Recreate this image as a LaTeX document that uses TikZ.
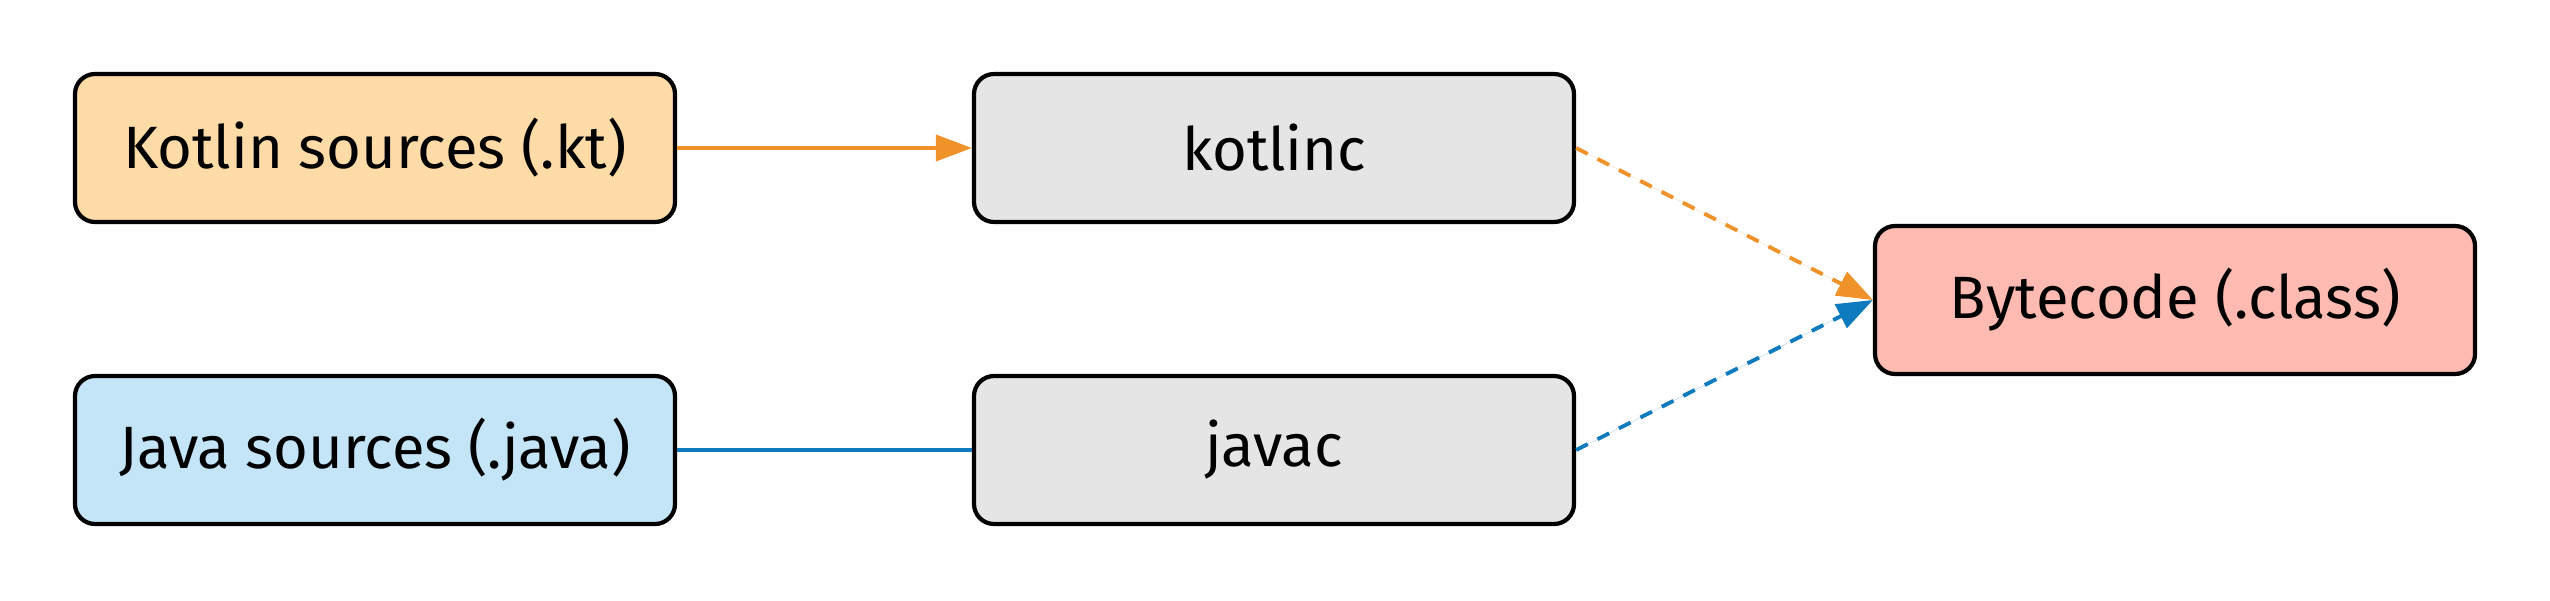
\documentclass[tikz,border=0pt]{standalone}
\usepackage{fontspec}
\setmainfont{Fira Sans}
\usetikzlibrary{arrows.meta}
\definecolor{kfill}{HTML}{FFDBA8}
\definecolor{jfill}{HTML}{C3E5F7}
\definecolor{gfill}{HTML}{E5E5E5}
\definecolor{bfill}{HTML}{FFBBB1}
\definecolor{korange}{HTML}{F0922A}
\definecolor{jblue}{HTML}{0E7BBF}
\tikzset{
  box/.style={draw=black, line width=1.2pt, rounded corners=0.2cm, minimum width=6cm, minimum height=1.48cm, inner sep=0pt, font=\fontsize{17}{20}\selectfont},
  conn/.style={line width=1.1pt},
  tip/.style={-{Triangle[length=3.6mm,width=2.6mm]}},
  dsh/.style={dash pattern=on 0.13cm off 0.11cm}
}
\begin{document}
\begin{tikzpicture}
\useasboundingbox (0,0) rectangle (25.5,6);
\node[box, fill=kfill] (kt) at (3.75,4.52) {Kotlin sources (.kt)};
\node[box, fill=gfill] (kc) at (12.74,4.52) {kotlinc};
\node[box, fill=jfill] (jv) at (3.75,1.5) {Java sources (.java)};
\node[box, fill=gfill] (jc) at (12.74,1.5) {javac};
\node[box, fill=bfill] (bc) at (21.75,3.0) {Bytecode (.class)};
\draw[conn, tip, draw=korange, fill=korange] (kt) -- (kc);
\draw[conn, draw=jblue] (jv) -- (jc);
\draw[conn, tip, dsh, draw=korange, fill=korange] (kc.east) -- (bc.west);
\draw[conn, tip, dsh, draw=jblue, fill=jblue] (jc.east) -- (bc.west);
\end{tikzpicture}
\end{document}
